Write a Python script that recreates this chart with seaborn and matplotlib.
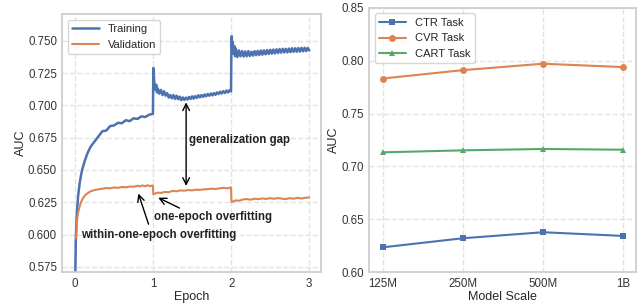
import matplotlib
matplotlib.use("Agg")
import matplotlib.pyplot as plt
import seaborn as sns

# left panel: AUC curves
train_epoch = [0.0, 0.005, 0.01, 0.02, 0.03, 0.04, 0.06, 0.08, 0.1, 0.13, 0.16, 0.2, 0.25, 0.3,
               0.35, 0.4, 0.45, 0.5, 0.55, 0.6, 0.65, 0.7, 0.75, 0.8, 0.85, 0.9, 0.95, 0.998,
               1.003, 1.008, 1.013, 1.02, 1.03, 1.04, 1.05, 1.06, 1.08, 1.1, 1.12, 1.14, 1.16,
               1.18, 1.2, 1.22, 1.24, 1.26, 1.28, 1.3, 1.32, 1.34, 1.36, 1.38, 1.4, 1.42, 1.44,
               1.46, 1.48, 1.5, 1.52, 1.54, 1.56, 1.58, 1.6, 1.62, 1.64, 1.66, 1.68, 1.7, 1.72,
               1.74, 1.76, 1.78, 1.8, 1.82, 1.84, 1.86, 1.88, 1.9, 1.92, 1.94, 1.96, 1.98, 1.998,
               2.003, 2.008, 2.013, 2.02, 2.03, 2.04, 2.05, 2.06, 2.08, 2.1, 2.12, 2.14, 2.16,
               2.18, 2.2, 2.22, 2.24, 2.26, 2.28, 2.3, 2.32, 2.34, 2.36, 2.38, 2.4, 2.42, 2.44,
               2.46, 2.48, 2.5, 2.52, 2.54, 2.56, 2.58, 2.6, 2.62, 2.64, 2.66, 2.68, 2.7, 2.72,
               2.74, 2.76, 2.78, 2.8, 2.82, 2.84, 2.86, 2.88, 2.9, 2.92, 2.94, 2.96, 2.98, 3.0]
train_auc = [0.540, 0.575, 0.596, 0.612, 0.622, 0.630, 0.640, 0.647, 0.652, 0.658, 0.663, 0.668,
             0.672, 0.676, 0.680, 0.6805, 0.6840, 0.6845, 0.6865, 0.6862, 0.6885, 0.6878, 0.6900,
             0.6895, 0.6915, 0.6910, 0.6928, 0.6935,
             0.729, 0.727, 0.719, 0.715, 0.712, 0.716, 0.710, 0.713, 0.709, 0.712, 0.708, 0.711,
             0.7075, 0.7095, 0.706, 0.708, 0.7055, 0.708, 0.705, 0.7075, 0.7048, 0.7068, 0.704,
             0.7062, 0.7042, 0.706, 0.7045, 0.7065, 0.705, 0.707, 0.7052, 0.7072, 0.7058, 0.7078,
             0.7062, 0.708, 0.7066, 0.7084, 0.707, 0.7088, 0.7075, 0.7092, 0.7078, 0.7095, 0.7082,
             0.710, 0.7088, 0.7106, 0.7092, 0.711, 0.7096, 0.7115, 0.710, 0.7118, 0.7108,
             0.745, 0.7535, 0.743, 0.749, 0.740, 0.746, 0.738, 0.744, 0.7375, 0.7425, 0.738,
             0.742, 0.7378, 0.7418, 0.738, 0.742, 0.7382, 0.7415, 0.7385, 0.742, 0.7388, 0.7422,
             0.739, 0.7425, 0.7392, 0.7426, 0.7395, 0.7428, 0.7398, 0.743, 0.740, 0.7432, 0.7402,
             0.7434, 0.7405, 0.7436, 0.7408, 0.7438, 0.741, 0.7438, 0.741, 0.744, 0.7412, 0.7442,
             0.7414, 0.7442, 0.7415, 0.7444, 0.7416, 0.7445, 0.7418, 0.7446, 0.742, 0.7445, 0.7425]

val_epoch = [0.015, 0.02, 0.03, 0.04, 0.06, 0.08, 0.1, 0.13, 0.16, 0.2, 0.25, 0.3, 0.35, 0.4,
             0.45, 0.5, 0.55, 0.6, 0.65, 0.7, 0.75, 0.8, 0.83, 0.86, 0.9, 0.93, 0.96, 0.998,
             1.003, 1.03, 1.06, 1.1, 1.15, 1.2, 1.25, 1.3, 1.35, 1.4, 1.45, 1.5, 1.55, 1.6,
             1.65, 1.7, 1.75, 1.8, 1.85, 1.9, 1.95, 1.998,
             2.004, 2.03, 2.06, 2.1, 2.15, 2.2, 2.25, 2.3, 2.35, 2.4, 2.45, 2.5, 2.55, 2.6,
             2.65, 2.7, 2.75, 2.8, 2.85, 2.9, 2.95, 3.0]
val_auc = [0.597, 0.606, 0.613, 0.617, 0.622, 0.6255, 0.628, 0.6305, 0.632, 0.6335, 0.6345,
           0.635, 0.6355, 0.636, 0.6358, 0.6365, 0.6362, 0.6368, 0.6366, 0.6372, 0.637, 0.6378,
           0.6372, 0.638, 0.6374, 0.6382, 0.6375, 0.638,
           0.6312, 0.6318, 0.6325, 0.6322, 0.633, 0.6328, 0.6338, 0.6335, 0.6342, 0.634, 0.6345,
           0.6342, 0.6348, 0.6346, 0.635, 0.6352, 0.6355, 0.6353, 0.6358, 0.6362, 0.6358, 0.6365,
           0.6252, 0.6258, 0.6265, 0.6262, 0.6272, 0.6275, 0.627, 0.6278, 0.6274, 0.628, 0.6276,
           0.6282, 0.6277, 0.6283, 0.6278, 0.6275, 0.6282, 0.6278, 0.6284, 0.6279, 0.6285, 0.6287]

# right panel: AUC vs model scale
model_scale = ["125M", "250M", "500M", "1B"]
ctr_auc = [0.6234, 0.632, 0.6377, 0.6342]
cvr_auc = [0.7832, 0.7911, 0.7972, 0.794]
cart_auc = [0.7133, 0.7152, 0.7165, 0.7158]

sns.set_theme(style="whitegrid", rc={"grid.linestyle": "--", "grid.color": "#e3e3e3",
                                     "axes.edgecolor": "#cccccc"})
plt.rcParams["font.family"] = ["Liberation Sans", "DejaVu Sans"]
blue, orange, green = sns.color_palette("deep")[:3]

fig = plt.figure(figsize=(6.41, 3.05), dpi=100)
ax1 = fig.add_axes([0.0967, 0.108, 0.404, 0.846])
ax2 = fig.add_axes([0.5757, 0.108, 0.4165, 0.866])

sns.lineplot(x=train_epoch, y=train_auc, ax=ax1, color=blue, linewidth=1.8, label="Training")
sns.lineplot(x=val_epoch, y=val_auc, ax=ax1, color=orange, linewidth=1.5, label="Validation")
ax1.set_xlim(-0.167, 3.15)
ax1.set_ylim(0.571, 0.7707)
ax1.set_xticks([0, 1, 2, 3])
ax1.set_yticks([0.575, 0.600, 0.625, 0.650, 0.675, 0.700, 0.725, 0.750])
ax1.set_yticklabels([f"{t:.3f}" for t in ax1.get_yticks()])
ax1.set_xlabel("Epoch", fontsize=9, labelpad=1)
ax1.set_ylabel("AUC", fontsize=9, labelpad=1)

bold = dict(fontsize=8.3, fontweight="bold", color="#222222")
ax1.annotate("", xy=(1.423, 0.7045), xytext=(1.423, 0.6355),
             arrowprops=dict(arrowstyle="<->", color="black", lw=1))
ax1.text(1.466, 0.673, "generalization gap", va="center", ha="left", **bold)
ax1.annotate("", xy=(1.034, 0.6295), xytext=(1.37, 0.6196),
             arrowprops=dict(arrowstyle="->", color="black", lw=1))
ax1.text(1.017, 0.6137, "one-epoch overfitting", va="center", ha="left", **bold)
ax1.annotate("", xy=(0.80, 0.6338), xytext=(0.953, 0.606),
             arrowprops=dict(arrowstyle="->", color="black", lw=1))
ax1.text(0.077, 0.600, "within-one-epoch overfitting", va="center", ha="left", **bold)

sns.lineplot(x=model_scale, y=ctr_auc, ax=ax2, color=blue, marker="s", markersize=5,
             markeredgewidth=0, linewidth=1.5, label="CTR Task")
sns.lineplot(x=model_scale, y=cvr_auc, ax=ax2, color=orange, marker="o", markersize=5,
             markeredgewidth=0, linewidth=1.5, label="CVR Task")
sns.lineplot(x=model_scale, y=cart_auc, ax=ax2, color=green, marker="^", markersize=5,
             markeredgewidth=0, linewidth=1.5, label="CART Task")
ax2.set_xlim(-0.17, 3.16)
ax2.set_ylim(0.60, 0.85)
ax2.set_yticks([0.60, 0.65, 0.70, 0.75, 0.80, 0.85])
ax2.set_yticklabels([f"{t:.2f}" for t in ax2.get_yticks()])
ax2.set_xlabel("Model Scale", fontsize=9, labelpad=1)
ax2.set_ylabel("AUC", fontsize=9, labelpad=1)

for ax in (ax1, ax2):
    ax.tick_params(axis="both", length=0, labelsize=8.3, colors="#333333")
    ax.tick_params(axis="x", pad=4)
    ax.tick_params(axis="y", pad=3.5)
    ax.legend(loc="upper left", fontsize=8, handlelength=2.4)

fig.savefig("out.png", dpi=100)
